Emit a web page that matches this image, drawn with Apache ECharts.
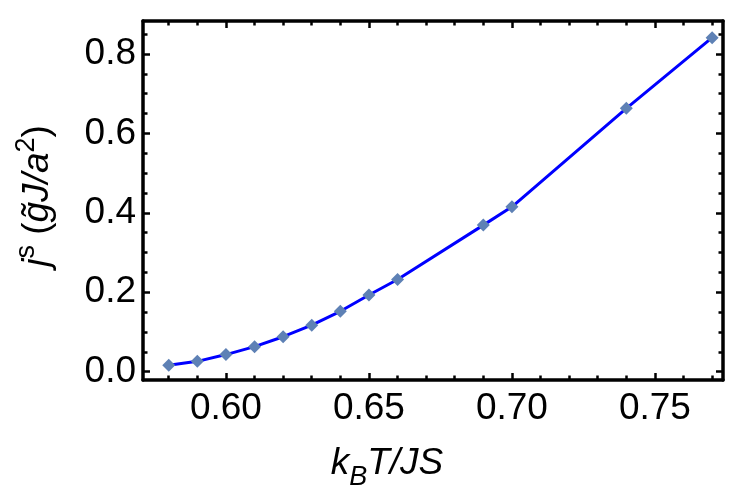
<!DOCTYPE html>
<html lang="en">
<head>
    <meta charset="UTF-8">
    <title>j^s vs kBT/JS</title>
    <script src="https://cdn.jsdelivr.net/npm/echarts@6/dist/echarts.min.js"></script>
</head>
<body style="margin:0">
<div id="main" style="width: 746px;height:500px;"></div>
<script type="text/javascript">
    // data
    var temps = [0.58, 0.59, 0.60, 0.61, 0.62, 0.63, 0.64, 0.65, 0.66, 0.69, 0.70, 0.74, 0.77];
    var current = [0.016, 0.026, 0.043, 0.063, 0.088, 0.117, 0.152, 0.193, 0.232, 0.369, 0.415, 0.663, 0.841];

    // ticks
    var xMajor = [0.60, 0.65, 0.70, 0.75];
    var xMinor = [0.58, 0.59, 0.61, 0.62, 0.63, 0.64, 0.66, 0.67, 0.68, 0.69, 0.71, 0.72, 0.73, 0.74, 0.76, 0.77];
    var yMajor = [0.0, 0.2, 0.4, 0.6, 0.8];
    var yMinor = [0.05, 0.1, 0.15, 0.25, 0.3, 0.35, 0.45, 0.5, 0.55, 0.65, 0.7, 0.75, 0.85];

    var font = 'Liberation Sans';
    var xMin = 0.571, xMax = 0.7738;
    var yMin = -0.021, yMax = 0.883;

    function xAx(pos, ticks, len, labels, line) {
        return {
            type: 'value', position: pos, min: xMin, max: xMax,
            axisLine: {show: line, onZero: false, lineStyle: {color: '#000', width: 3.5}},
            axisTick: {show: true, inside: true, length: len, customValues: ticks,
                lineStyle: {color: '#000', width: 2.5}},
            axisLabel: {show: labels, customValues: ticks, margin: 10,
                formatter: function (v) { return v.toFixed(2); },
                fontFamily: font, fontSize: 37, color: '#000'},
            splitLine: {show: false}
        };
    }
    function yAx(pos, ticks, len, labels, line) {
        return {
            type: 'value', position: pos, min: yMin, max: yMax,
            axisLine: {show: line, onZero: false, lineStyle: {color: '#000', width: 3.5}},
            axisTick: {show: true, inside: true, length: len, customValues: ticks,
                lineStyle: {color: '#000', width: 2.5}},
            axisLabel: {show: labels, customValues: ticks, margin: 7,
                formatter: function (v) { return v.toFixed(1); },
                fontFamily: font, fontSize: 37, color: '#000'},
            splitLine: {show: false}
        };
    }

    var myChart = echarts.init(document.getElementById('main'));
    var option = {
        backgroundColor: '#fff',
        animation: false,
        grid: {left: 143, right: 23, top: 21, bottom: 120},
        xAxis: [
            xAx('bottom', xMajor, 7, true, true),
            xAx('bottom', xMinor, 4.5, false, false),
            xAx('top', xMajor, 7, false, true),
            xAx('top', xMinor, 4.5, false, false)
        ],
        yAxis: [
            yAx('left', yMajor, 7, true, true),
            yAx('left', yMinor, 4.5, false, false),
            yAx('right', yMajor, 7, false, true),
            yAx('right', yMinor, 4.5, false, false)
        ],
        graphic: [
            {
                type: 'text', x: 387, y: 468,
                style: {
                    text: '{m|k}{s|B}{m|T/JS}',
                    align: 'center', verticalAlign: 'middle',
                    rich: {
                        m: {fontFamily: font, fontSize: 37, fontStyle: 'italic', fill: '#000',
                            verticalAlign: 'bottom', padding: [0, 0, 9, 0]},
                        s: {fontFamily: font, fontSize: 27, fontStyle: 'italic', fill: '#000',
                            verticalAlign: 'bottom'}
                    }
                }
            },
            {
                type: 'text', x: 35, y: 196, rotation: Math.PI / 2,
                style: {
                    text: '{i|j}{u|s}{n| (}{i|g\u0303J/a}{u|2}{n|)}',
                    align: 'center', verticalAlign: 'middle',
                    rich: {
                        i: {fontFamily: font, fontSize: 37, fontStyle: 'italic', fill: '#000',
                            verticalAlign: 'bottom'},
                        n: {fontFamily: font, fontSize: 37, fill: '#000',
                            verticalAlign: 'bottom'},
                        u: {fontFamily: font, fontSize: 27, fill: '#000',
                            verticalAlign: 'bottom', padding: [0, 0, 16, 0]}
                    }
                }
            }
        ],
        series: [
            {
                type: 'line',
                xAxisIndex: 0, yAxisIndex: 0,
                data: temps.map(function (t, i) { return [t, current[i]]; }),
                lineStyle: {color: '#0000ff', width: 3},
                symbol: 'diamond',
                symbolSize: 13,
                itemStyle: {color: '#5e81b5'},
                showSymbol: true
            }
        ]
    };
    myChart.setOption(option);
</script>
</body>
</html>
